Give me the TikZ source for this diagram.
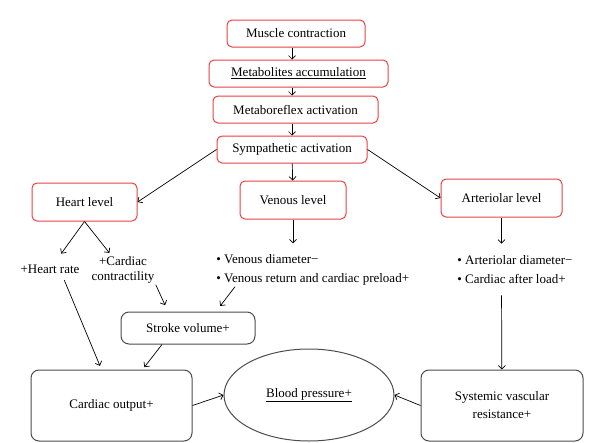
\documentclass[tikz,border=0pt]{standalone}
\usepackage{fontspec}
\setmainfont{Liberation Serif}
\usepackage{tikz}
\usetikzlibrary{arrows.meta, shapes.geometric}
\definecolor{boxred}{RGB}{230,65,68}

\begin{document}
\begin{tikzpicture}[->,
	>={Straight Barb[length=3.5pt, width=7pt]},
	x=1pt, y=-1pt,
	line width=0.7pt,
	font=\fontsize{13}{15}\selectfont,
	redbox/.style={draw=boxred, line width=1pt, rounded corners=5pt, inner sep=0pt},
	greybox/.style={draw=black!70, line width=1pt, rounded corners=8pt, inner sep=0pt, align=center},
	plain/.style={inner sep=1pt}]
	\useasboundingbox (0,0) rectangle (600,442);
	\node at (296,33.5) (mc) [redbox, minimum width=138pt, minimum height=27pt] {Muscle contraction};
	\node at (298.5,73.5) (ma) [redbox, minimum width=179pt, minimum height=27pt] {\underline{Metabolites accumulation}};
	\node at (295.5,109.5) (mr) [redbox, minimum width=165pt, minimum height=27pt] {Metaboreflex activation};
	\node at (292,149.5) (sa) [redbox, minimum width=150pt, minimum height=27pt] {Sympathetic activation};
	\node at (84.5,202) (heart) [redbox, minimum width=105pt, minimum height=38pt] {Heart level};
	\node at (293,200) (ven) [redbox, minimum width=106pt, minimum height=38pt] {Venous level};
	\node at (501.5,198) (art) [redbox, minimum width=121pt, minimum height=38pt] {Arteriolar level};
	\node at (50,269) (hr) [plain] {+Heart rate};
	\node at (123,270) (cc) [plain, align=center] {+Cardiac\\contractility};
	\node at (215,270) (vl) [plain, anchor=west, align=left, font=\fontsize{13}{19}\selectfont] {\textbullet\ Venous diameter−\\\textbullet\ Venous return and cardiac preload+};
	\node at (456,270) (al) [plain, anchor=west, align=left, font=\fontsize{13}{19}\selectfont] {\textbullet\ Arteriolar diameter−\\\textbullet\ Cardiac after load+};
	\node at (188,328) (sv) [greybox, minimum width=134pt, minimum height=32pt] {Stroke volume+};
	\node at (111.5,405.5) (co) [greybox, minimum width=161pt, minimum height=71pt] {Cardiac output+};
	\node at (309,395) (bp) [draw=black!70, line width=1pt, ellipse, minimum width=170pt, minimum height=92pt, inner sep=0pt] {\underline{Blood pressure+}};
	\node at (502,405.5) (svr) [greybox, minimum width=162pt, minimum height=71pt, font=\fontsize{13}{18}\selectfont] {Systemic vascular\\resistance+};
	% main chain
	\draw[->, black] (mc.south -| sa) -- (ma.north -| sa);
	\draw[->, black] (ma.south -| sa) -- (mr.north -| sa);
	\draw[->, black] (mr.south -| sa) -- (sa.north);
	\draw[->, black] (sa.west) -- (heart.east);
	\draw[->, black] (sa) -- (ven);
	\draw[->, black] (sa.east) -- (art.west);
	% heart level
	\draw[->, black, shorten >=12pt] (heart.south) -- (hr);
	\draw[->, black, shorten >=3pt] (heart.south) -- (cc);
	\draw[->, black, shorten >=7pt] (cc.south east) -- ([xshift=-20pt]sv.north);
	\draw[->, black, shorten <=6pt, shorten >=4pt] ([xshift=12pt]hr.south) -- ([xshift=-10pt]co.north);
	\draw[->, black, shorten >=3pt] ([xshift=-26pt]sv.south) -- ([xshift=31pt]co.north);
	% venous level
	\draw[->, black, shorten >=10pt] (ven) -- (ven |- vl.north);
	\draw[->, black, shorten >=7pt] ([xshift=20pt]vl.south west) -- ([xshift=28pt]sv.north);
	% arteriolar level
	\draw[->, black, shorten >=11pt] (art) -- (art |- al.north);
	\draw[->, black, shorten <=10pt] (art |- al.south) -- (svr);
	% blood pressure
	\draw[->, black] (co.east) -- (bp.west);
	\draw[->, black] (svr.west) -- (bp.east);
\end{tikzpicture}
\end{document}
